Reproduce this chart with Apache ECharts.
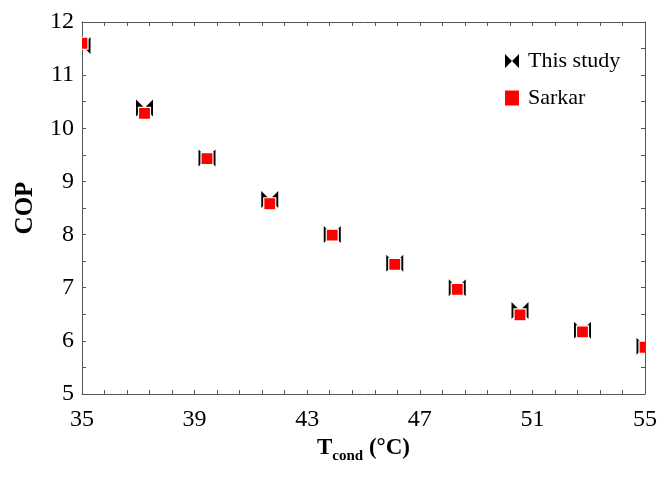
<!DOCTYPE html>
<html><head><meta charset="utf-8">
<script src="https://cdn.jsdelivr.net/npm/echarts@6/dist/echarts.min.js"></script>
<style>html,body{margin:0;padding:0;background:#fff}#c{width:660px;height:480px}</style>
</head><body><div id="c"></div>
<script>
const tcond = [35, 37.22, 39.44, 41.67, 43.89, 46.11, 48.33, 50.56, 52.78, 55];
const copThisStudy = [11.56, 10.38, 9.44, 8.66, 8.0, 7.46, 7.0, 6.57, 6.2, 5.9];
const copSarkar = [11.6, 10.28, 9.43, 8.58, 7.99, 7.44, 6.97, 6.49, 6.17, 5.88];
const seriesNames = ['This study', 'Sarkar'];

const FONT = 'Liberation Serif';
const AX = '#555';
const chart = echarts.init(document.getElementById('c'));

function bowtie(params, api) {
  const p = api.coord([api.value(0), api.value(1)]);
  const h = 8.5;
  return { type: 'group', children: [
    { type: 'polygon', shape: { points: [[p[0]-h, p[1]-h], [p[0], p[1]], [p[0]-h, p[1]+h]] }, style: { fill: '#000' } },
    { type: 'polygon', shape: { points: [[p[0]+h, p[1]-h], [p[0], p[1]], [p[0]+h, p[1]+h]] }, style: { fill: '#000' } }
  ]};
}
function square(params, api) {
  const p = api.coord([api.value(0), api.value(1)]);
  const s = 6;
  return { type: 'rect', shape: { x: p[0]-s, y: p[1]-s, width: 2*s, height: 2*s },
    style: { fill: '#ff0000', stroke: '#fff', lineWidth: 1.2 } };
}

const baseAxis = {
  axisLine: { show: true, onZero: false, lineStyle: { color: AX, width: 1 } },
  axisTick: { show: true, inside: true, length: 4, lineStyle: { color: AX } },
  minorTick: { show: true, length: 4, lineStyle: { color: AX } },
  splitLine: { show: false }
};

chart.setOption({
  animation: false,
  backgroundColor: '#fff',
  grid: { left: 82, right: 15, top: 22, bottom: 86 },
  legend: {
    orient: 'vertical', left: 500, top: 45, itemGap: 15, itemWidth: 14, itemHeight: 15,
    textStyle: { fontFamily: FONT, fontSize: 22, color: '#000', padding: [0, 0, 0, 4] },
    data: [
      { name: seriesNames[0], icon: 'path://M0,0L8,8L0,16ZM16,0L8,8L16,16Z' },
      { name: seriesNames[1], icon: 'rect' }
    ]
  },
  xAxis: [
    Object.assign({}, baseAxis, {
      type: 'value', position: 'bottom', min: 35, max: 55, interval: 4,
      minorTick: Object.assign({}, baseAxis.minorTick, { splitNumber: 5 }),
      axisLabel: { fontFamily: FONT, fontSize: 24, color: '#000', margin: 14 },
      name: '{a|T}{b|cond}{c| (°C)}', nameLocation: 'middle', nameGap: 38,
      nameTextStyle: { fontFamily: FONT, fontWeight: 'bold', color: '#000',
        rich: {
          a: { fontFamily: FONT, fontWeight: 'bold', fontSize: 23, color: '#000', verticalAlign: 'bottom' },
          b: { fontFamily: FONT, fontWeight: 'bold', fontSize: 15, color: '#000', verticalAlign: 'bottom', padding: [0, 0, -4, 0] },
          c: { fontFamily: FONT, fontWeight: 'bold', fontSize: 23, color: '#000', verticalAlign: 'bottom' }
        } }
    }),
    Object.assign({}, baseAxis, {
      type: 'value', position: 'top', min: 35, max: 55, interval: 4,
      minorTick: Object.assign({}, baseAxis.minorTick, { splitNumber: 5 }),
      axisLabel: { show: false }
    })
  ],
  yAxis: [
    Object.assign({}, baseAxis, {
      type: 'value', position: 'left', min: 5, max: 12, interval: 1,
      minorTick: Object.assign({}, baseAxis.minorTick, { splitNumber: 2 }),
      axisLabel: { fontFamily: FONT, fontSize: 24, color: '#000', margin: 8 },
      name: 'COP', nameLocation: 'middle', nameGap: 44,
      nameTextStyle: { fontFamily: FONT, fontWeight: 'bold', fontSize: 25, color: '#000' }
    }),
    Object.assign({}, baseAxis, {
      type: 'value', position: 'right', min: 5, max: 12, interval: 1,
      minorTick: Object.assign({}, baseAxis.minorTick, { splitNumber: 2 }),
      axisLabel: { show: false }
    })
  ],
  series: [
    { name: seriesNames[0], type: 'custom', renderItem: bowtie, clip: true, z: 2,
      itemStyle: { color: '#000' }, encode: { x: 0, y: 1 },
      data: tcond.map((x, i) => [x, copThisStudy[i]]) },
    { name: seriesNames[1], type: 'custom', renderItem: square, clip: true, z: 3,
      itemStyle: { color: '#ff0000' }, encode: { x: 0, y: 1 },
      data: tcond.map((x, i) => [x, copSarkar[i]]) }
  ]
});
</script></body></html>
